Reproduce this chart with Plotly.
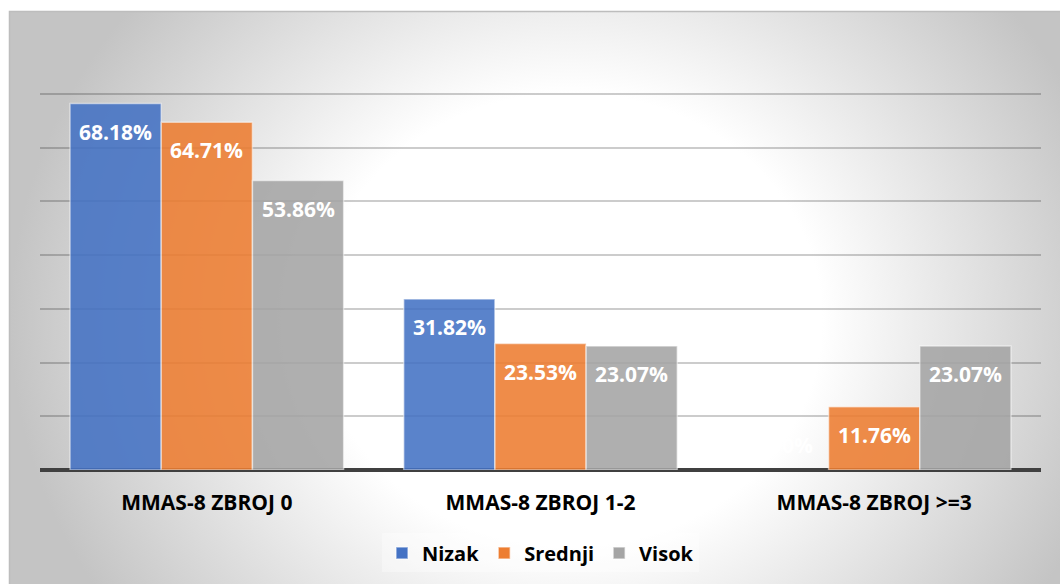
import base64
import plotly.graph_objects as go

# Chart data
categories = ["MMAS-8 ZBROJ 0", "MMAS-8 ZBROJ 1-2", "MMAS-8 ZBROJ >=3"]
series_names = ["Nizak", "Srednji", "Visok"]
nizak = [68.18, 31.82, 0.00]
srednji = [64.71, 23.53, 11.76]
visok = [53.86, 23.07, 23.07]
series_values = [nizak, srednji, visok]
series_colors = ["#4472C4", "#ED7D31", "#A5A5A5"]

W, H = 1060, 584
ML, MR, MT, MB = 40, 19, 40, 114
PW, PH = W - ML - MR, H - MT - MB
BARGAP = 0.18
FONT = "Open Sans"

fig = go.Figure()
for name, vals, col in zip(series_names, series_values, series_colors):
    fig.add_trace(go.Bar(
        name=name, x=categories, y=vals,
        marker=dict(color=col, opacity=0.88,
                    line=dict(color="rgba(255,255,255,0.55)",
                              width=[1.5 if v > 0 else 0 for v in vals])),
        hoverinfo="skip",
    ))

# Value labels near the top inside each bar
n = len(series_values)
bw = (1 - BARGAP) / n
annotations = []
for j, vals in enumerate(series_values):
    for i, v in enumerate(vals):
        annotations.append(dict(
            x=i + (j - (n - 1) / 2) * bw, y=v, xref="x", yref="y",
            text=f"{v:.2f}%", showarrow=False,
            yanchor="middle", yshift=-28 if v > 0 else 25,
            font=dict(family=FONT, size=21, color="white", weight="bold"),
        ))

# Radial-gradient chart background
svg = f"""<svg xmlns='http://www.w3.org/2000/svg' width='{W}' height='{H}' viewBox='0 0 {W} {H}' preserveAspectRatio='none'>
<defs><radialGradient id='g' gradientUnits='userSpaceOnUse' cx='570' cy='320' r='560'
 gradientTransform='translate(570 320) scale(1 0.9) translate(-570 -320)'>
<stop offset='0' stop-color='#ffffff'/><stop offset='0.45' stop-color='#ffffff'/>
<stop offset='1' stop-color='#c4c4c4'/></radialGradient></defs>
<rect width='{W}' height='{H}' fill='#ffffff'/>
<rect x='9.5' y='11.5' width='1070' height='620' fill='url(#g)' stroke='#bdbdbd' stroke-width='1.5'/>
</svg>"""
src = "data:image/svg+xml;base64," + base64.b64encode(svg.encode()).decode()

fig.update_layout(
    width=W, height=H,
    margin=dict(l=ML, r=MR, t=MT, b=MB),
    barmode="group", bargap=BARGAP, bargroupgap=0,
    paper_bgcolor="white", plot_bgcolor="rgba(0,0,0,0)",
    images=[dict(source=src, xref="paper", yref="paper",
                 x=-ML / PW, y=1 + MT / PH, sizex=W / PW, sizey=H / PH,
                 xanchor="left", yanchor="top", sizing="stretch", layer="below")],
    xaxis=dict(showgrid=False, showline=False, ticks="",
               tickfont=dict(family=FONT, size=21, color="black", weight="bold"),
               ticklabelstandoff=18),
    yaxis=dict(range=[0, 80], dtick=10, showticklabels=False, ticks="",
               showgrid=True, gridcolor="rgba(0,0,0,0.2)", gridwidth=1.5,
               zeroline=True, zerolinecolor="#404040", zerolinewidth=3.5),
    legend=dict(orientation="h", x=0.5, xanchor="center", y=-0.193, yanchor="middle",
                bgcolor="rgba(255,255,255,0.35)", itemwidth=30,
                font=dict(family=FONT, size=20, color="black", weight="bold")),
    annotations=annotations,
    showlegend=True,
)

fig.write_html("out.html")
